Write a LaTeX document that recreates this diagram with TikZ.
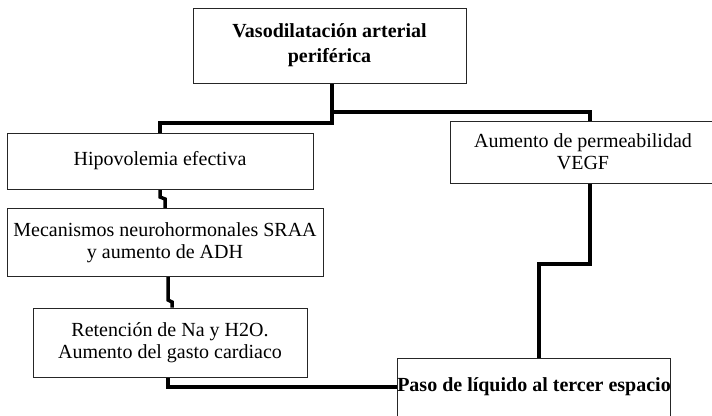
\documentclass[tikz,border=0pt]{standalone}
\usepackage{fontspec}
\setmainfont{Liberation Serif}
\usetikzlibrary{positioning}
\pgfdeclarelayer{background}
\pgfsetlayers{background,main}

\begin{document}
\begin{tikzpicture}[x=1pt,y=-1pt,
	boxnode/.style={rectangle, draw=black!85, line width=1pt, fill=white, align=center, inner sep=0pt, font=\fontsize{20}{22}\selectfont},
	link/.style={line width=3.5pt, draw=black},
	]
	\useasboundingbox (0,0) rectangle (712,415);
	%Nodes
	\node[boxnode, minimum width=273pt, minimum height=75pt, font=\fontsize{20}{25}\selectfont\bfseries]
		(vaso)  at (329.5,45.5)  {Vasodilatación arterial\\periférica};
	\node[boxnode, minimum width=306pt, minimum height=56pt]  (hipo)   at (160,161)    {Hipovolemia efectiva};
	\node[boxnode, minimum width=266pt, minimum height=62pt]  (aum)    at (583,152)    {Aumento de permeabilidad\\VEGF};
	\node[boxnode, minimum width=316pt, minimum height=68pt]  (meca)   at (165,242.5)  {Mecanismos neurohormonales SRAA\\y aumento de ADH};
	\node[boxnode, minimum width=274pt, minimum height=69pt]  (reten)  at (170,342.5)  {Retención de Na y H2O.\\Aumento del gasto cardiaco};
	\node[boxnode, minimum width=272pt, minimum height=58pt, font=\fontsize{20}{22}\selectfont\bfseries]
		(paso)  at (534,387)    {Paso de líquido al tercer espacio};

	\begin{pgfonlayer}{background}
	%Lines
	\coordinate (fork)  at (332,112);
	\coordinate (forkL) at (332,123);
	\coordinate (dropR) at (590,112);
	\draw[link] (vaso.south -| fork) -- (forkL) -| (hipo.north);
	\draw[link] (fork) -- (dropR) -- (dropR |- aum.north);
	\coordinate (jogA) at (160,197);
	\coordinate (jogB) at (165,199);
	\draw[link] (hipo.south) -- (jogA) -- (jogB) -- (jogB |- meca.north);
	\coordinate (jogC) at (168,300);
	\coordinate (jogD) at (172,302);
	\draw[link] (meca.south -| jogC) -- (jogC) -- (jogD) -- (jogD |- reten.north);
	\coordinate (elbowB) at (168,387);
	\draw[link] (reten.south -| elbowB) -- (elbowB) -- (paso.west);
	\coordinate (stepR) at (590,264);
	\coordinate (stepL) at (539,264);
	\draw[link] (aum.south -| stepR) -- (stepR) -- (stepL) -- (stepL |- paso.north);
	\end{pgfonlayer}
\end{tikzpicture}
\end{document}
